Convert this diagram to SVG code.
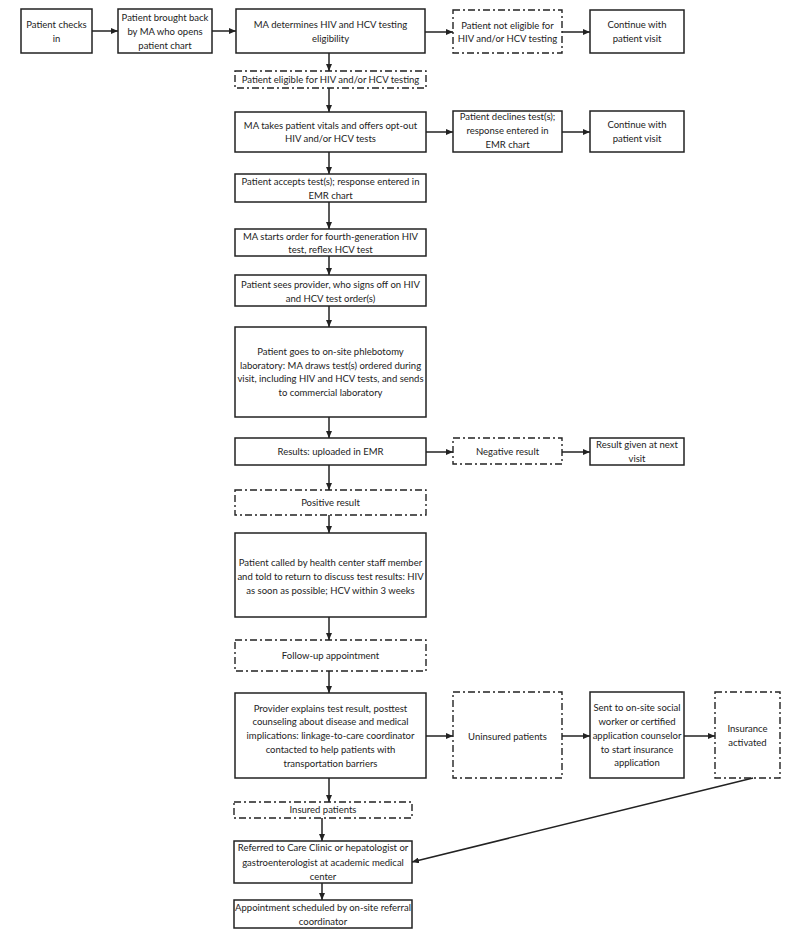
<svg xmlns="http://www.w3.org/2000/svg" width="791" height="941" viewBox="0 0 791 941">
<style>
.b{fill:#fff;stroke:#222;stroke-width:1.5}
.d{fill:#fff;stroke:#222;stroke-width:1.4;stroke-dasharray:7,3,2,3}
text{font-family:Lato,"Liberation Sans",sans-serif;font-size:9.5px;fill:#222;text-anchor:middle}
.c line{stroke:#222;stroke-width:1.5;marker-end:url(#ah)}
</style>
<defs>
<marker id="ah" viewBox="0 0 10 10" refX="10" refY="5" markerWidth="7" markerHeight="6" markerUnits="userSpaceOnUse" orient="auto" preserveAspectRatio="none">
<path d="M0,0 L10,5 L0,10 z" fill="#222"/>
</marker>
</defs>
<rect width="791" height="941" fill="#fff"/>
<g id="n1"><rect class="b" x="21" y="9" width="71" height="44"/><text x="56.5" y="28">Patient checks</text><text x="56.5" y="42">in</text></g>
<g id="n2"><rect class="b" x="118" y="9" width="94" height="44"/><text x="165" y="21">Patient brought back</text><text x="165" y="35">by MA who opens</text><text x="165" y="49">patient chart</text></g>
<g id="n3"><rect class="b" x="236" y="9" width="189" height="44"/><text x="330.5" y="28">MA determines HIV and HCV testing</text><text x="330.5" y="42">eligibility</text></g>
<g id="n4"><rect class="d" x="453" y="10" width="109" height="43"/><text x="507.5" y="28.5">Patient not eligible for</text><text x="507.5" y="42">HIV and/or HCV testing</text></g>
<g id="n5"><rect class="b" x="590" y="10" width="94" height="43"/><text x="637" y="28">Continue with</text><text x="637" y="42">patient visit</text></g>
<g id="n6"><rect class="d" x="235" y="71" width="191" height="17"/><text x="330.5" y="83">Patient eligible for HIV and/or HCV testing</text></g>
<g id="n7"><rect class="b" x="235" y="112" width="191" height="40"/><text x="330.5" y="129">MA takes patient vitals and offers opt-out</text><text x="330.5" y="142">HIV and/or HCV tests</text></g>
<g id="n8"><rect class="b" x="453" y="111" width="109" height="41"/><text x="507.5" y="120">Patient declines test(s);</text><text x="507.5" y="134">response entered in</text><text x="507.5" y="148">EMR chart</text></g>
<g id="n9"><rect class="b" x="590" y="111" width="94" height="41"/><text x="637" y="128">Continue with</text><text x="637" y="142">patient visit</text></g>
<g id="n10"><rect class="b" x="235" y="174" width="191" height="28"/><text x="330.5" y="185">Patient accepts test(s); response entered in</text><text x="330.5" y="199">EMR chart</text></g>
<g id="n11"><rect class="b" x="235" y="229" width="191" height="27"/><text x="330.5" y="240">MA starts order for fourth-generation HIV</text><text x="330.5" y="253">test, reflex HCV test</text></g>
<g id="n12"><rect class="b" x="235" y="275" width="191" height="31"/><text x="330.5" y="288">Patient sees provider, who signs off on HIV</text><text x="330.5" y="302">and HCV test order(s)</text></g>
<g id="n13"><rect class="b" x="235" y="327" width="191" height="90"/><text x="330.5" y="355">Patient goes to on-site phlebotomy</text><text x="330.5" y="369">laboratory: MA draws test(s) ordered during</text><text x="330.5" y="382">visit, including HIV and HCV tests, and sends</text><text x="330.5" y="396">to commercial laboratory</text></g>
<g id="n14"><rect class="b" x="235" y="438" width="191" height="27"/><text x="330.5" y="455">Results: uploaded in EMR</text></g>
<g id="n15"><rect class="d" x="453" y="438" width="109" height="26"/><text x="507.5" y="455">Negative result</text></g>
<g id="n16"><rect class="b" x="590" y="438" width="94" height="27"/><text x="637" y="448">Result given at next</text><text x="637" y="462">visit</text></g>
<g id="n17"><rect class="d" x="235" y="490" width="191" height="25"/><text x="330.5" y="506">Positive result</text></g>
<g id="n18"><rect class="b" x="235" y="533" width="191" height="84"/><text x="330.5" y="566">Patient called by health center staff member</text><text x="330.5" y="580">and told to return to discuss test results: HIV</text><text x="330.5" y="594">as soon as possible; HCV within 3 weeks</text></g>
<g id="n19"><rect class="d" x="235" y="640" width="191" height="31"/><text x="330.5" y="659">Follow-up appointment</text></g>
<g id="n20"><rect class="b" x="235" y="693" width="191" height="85"/><text x="330.5" y="712">Provider explains test result, posttest</text><text x="330.5" y="725">counseling about disease and medical</text><text x="330.5" y="739">implications: linkage-to-care coordinator</text><text x="330.5" y="753">contacted to help patients with</text><text x="330.5" y="767">transportation barriers</text></g>
<g id="n21"><rect class="d" x="453" y="692" width="109" height="86"/><text x="507.5" y="740">Uninsured patients</text></g>
<g id="n22"><rect class="b" x="590" y="692" width="94" height="86"/><text x="637" y="711">Sent to on-site social</text><text x="637" y="725">worker or certified</text><text x="637" y="739">application counselor</text><text x="637" y="753">to start insurance</text><text x="637" y="766">application</text></g>
<g id="n23"><rect class="d" x="715" y="692" width="65" height="86"/><text x="747.5" y="732">Insurance</text><text x="747.5" y="746">activated</text></g>
<g id="n24"><rect class="d" x="234" y="802" width="178" height="16"/><text x="323" y="813">Insured patients</text></g>
<g id="n25"><rect class="b" x="234" y="841" width="178" height="42"/><text x="323" y="851">Referred to Care Clinic or hepatologist or</text><text x="323" y="866">gastroenterologist at academic medical</text><text x="323" y="880">center</text></g>
<g id="n26"><rect class="b" x="234" y="900" width="178" height="28"/><text x="323" y="911">Appointment scheduled by on-site referral</text><text x="323" y="925">coordinator</text></g>
<g id="connectors" class="c">
<line x1="92" y1="31" x2="118" y2="31"/>
<line x1="212" y1="31" x2="236" y2="31"/>
<line x1="425" y1="32" x2="453" y2="32"/>
<line x1="562" y1="32" x2="590" y2="32"/>
<line x1="329" y1="53" x2="329" y2="71"/>
<line x1="329" y1="88" x2="329" y2="112"/>
<line x1="426" y1="132" x2="453" y2="132"/>
<line x1="562" y1="132" x2="590" y2="132"/>
<line x1="329" y1="152" x2="329" y2="174"/>
<line x1="329" y1="202" x2="329" y2="229"/>
<line x1="329" y1="256" x2="329" y2="275"/>
<line x1="329" y1="306" x2="329" y2="327"/>
<line x1="329" y1="417" x2="329" y2="438"/>
<line x1="426" y1="452" x2="453" y2="452"/>
<line x1="562" y1="452" x2="590" y2="452"/>
<line x1="329" y1="465" x2="329" y2="490"/>
<line x1="329" y1="515" x2="329" y2="533"/>
<line x1="329" y1="617" x2="329" y2="640"/>
<line x1="329" y1="671" x2="329" y2="693"/>
<line x1="426" y1="736" x2="453" y2="736"/>
<line x1="562" y1="736" x2="590" y2="736"/>
<line x1="684" y1="736" x2="715" y2="736"/>
<line x1="329" y1="778" x2="329" y2="802"/>
<line x1="322" y1="818" x2="322" y2="841"/>
<line x1="322" y1="883" x2="322" y2="900"/>
<line x1="753" y1="778" x2="412" y2="862"/>
</g>
</svg>
